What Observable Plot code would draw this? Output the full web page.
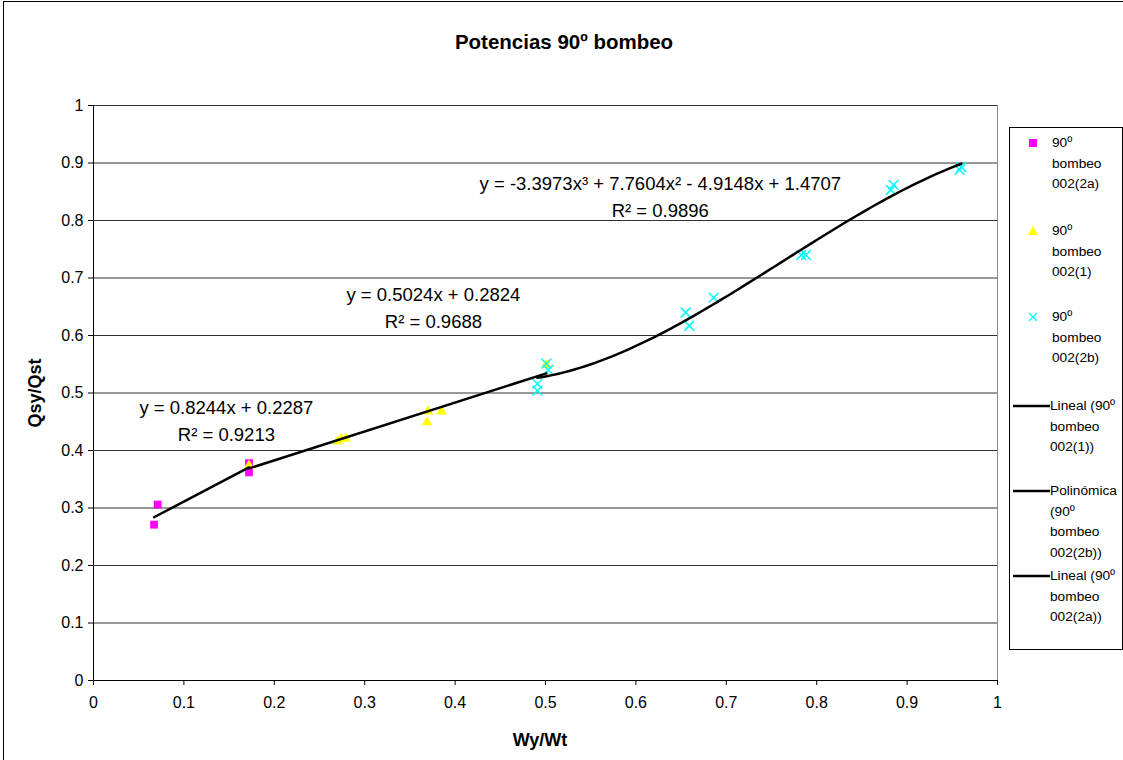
<!DOCTYPE html>
<html>
<head>
<meta charset="utf-8">
<script src="https://cdn.jsdelivr.net/npm/d3@7"></script>
<script src="https://cdn.jsdelivr.net/npm/@observablehq/plot@0.6"></script>
<style>
  html, body { margin: 0; padding: 0; background: #fff; }
  body { width: 1123px; height: 760px; position: relative; overflow: hidden;
         font-family: "Liberation Sans", Arial, sans-serif; color: #000; }
  #frame { position: absolute; left: 3px; top: 1px; width: 1130px; height: 770px;
           border: 1px solid #000; box-sizing: border-box; }
  #chart { position: absolute; left: 0; top: 0; }
  .title { position: absolute; font-weight: bold; white-space: nowrap; }
  #legend { position: absolute; left: 1009px; top: 127px; width: 114px; height: 523px;
            border: 1px solid #000; box-sizing: border-box; background: #fff; }
  .lg-text { position: absolute; font-size: 13.7px; line-height: 20.5px; white-space: nowrap; }
  .lg-key { position: absolute; }
</style>
</head>
<body>
<div id="frame"></div>
<div id="chart"></div>
<div class="title" id="main-title" style="font-size:20.5px">Potencias 90º bombeo</div>
<div class="title" id="x-title" style="font-size:18px">Wy/Wt</div>
<div class="title" id="y-title" style="font-size:18px">Qsy/Qst</div>
<div id="legend"></div>
<script>
// Axis ticks
const xTicks = [0, 0.1, 0.2, 0.3, 0.4, 0.5, 0.6, 0.7, 0.8, 0.9, 1];
const xTickLabels = ["0", "0.1", "0.2", "0.3", "0.4", "0.5", "0.6", "0.7", "0.8", "0.9", "1"];
const yTicks = [0, 0.1, 0.2, 0.3, 0.4, 0.5, 0.6, 0.7, 0.8, 0.9, 1];
const yTickLabels = ["0", "0.1", "0.2", "0.3", "0.4", "0.5", "0.6", "0.7", "0.8", "0.9", "1"];

// Series "90º bombeo 002(2a)"
const s2aX = [0.067, 0.071, 0.172, 0.172];
const s2aY = [0.271, 0.306, 0.378, 0.362];

// Series "90º bombeo 002(1)"
const s1X = [0.172, 0.270, 0.274, 0.279, 0.369, 0.370, 0.385, 0.501];
const s1Y = [0.374, 0.416, 0.420, 0.421, 0.449, 0.468, 0.468, 0.549];

// Series "90º bombeo 002(2b)"
const s2bX = [0.491, 0.491, 0.501, 0.503, 0.655, 0.659, 0.686, 0.783, 0.788, 0.882, 0.885, 0.958, 0.960];
const s2bY = [0.516, 0.504, 0.551, 0.540, 0.640, 0.617, 0.666, 0.740, 0.740, 0.853, 0.862, 0.888, 0.893];

// Trendline coefficients (highest power first) as printed on the chart
const fit2a = [0.8244, 0.2287];
const fit1 = [0.5024, 0.2824];
const fit2b = [-3.3973, 7.7604, -4.9148, 1.4707];

// Trendline equation labels
const eqLabels = [
  { text: "y = 0.8244x + 0.2287", x: 0.147, y: 0.473 },
  { text: "R² = 0.9213", x: 0.147, y: 0.426 },
  { text: "y = 0.5024x + 0.2824", x: 0.376, y: 0.671 },
  { text: "R² = 0.9688", x: 0.376, y: 0.624 },
  { text: "y = -3.3973x³ + 7.7604x² - 4.9148x + 1.4707", x: 0.627, y: 0.863 },
  { text: "R² = 0.9896", x: 0.627, y: 0.816 }
];

const zip = (xs, ys) => xs.map((x, i) => ({ x, y: ys[i] }));
const poly = (c, x) => c.reduce((acc, k) => acc * x + k, 0);
const fitLine = (c, xs, n) => {
  const lo = d3.min(xs), hi = d3.max(xs);
  return d3.range(n + 1).map(i => {
    const x = lo + (hi - lo) * i / n;
    return { x, y: poly(c, x) };
  });
};

const pts2a = zip(s2aX, s2aY);
const pts1 = zip(s1X, s1Y);
const pts2b = zip(s2bX, s2bY);

const chart = Plot.plot({
  width: 1123,
  height: 760,
  marginLeft: 93,
  marginRight: 126,
  marginTop: 105,
  marginBottom: 80,
  x: { domain: [0, 1] },
  y: { domain: [0, 1] },
  style: { fontFamily: "'Liberation Sans', Arial, sans-serif", fontSize: "16px", color: "#000", background: "transparent" },
  marks: [
    Plot.ruleY(yTicks.filter(v => v > 0), { stroke: "#333", strokeWidth: 1 }),
    Plot.ruleX([1], { stroke: "#888", strokeWidth: 1 }),
    Plot.axisX({ ticks: xTicks, tickSize: 5, tickPadding: 11, label: null, fontSize: 16,
                 tickFormat: d => xTickLabels[xTicks.indexOf(d)] }),
    Plot.axisY({ ticks: yTicks, tickSize: 5, tickPadding: 5, label: null, fontSize: 16,
                 tickFormat: d => yTickLabels[yTicks.indexOf(d)] }),
    Plot.ruleY([0], { stroke: "#000", strokeWidth: 1 }),
    Plot.ruleX([0], { stroke: "#000", strokeWidth: 1 }),
    Plot.dot(pts2a, { x: "x", y: "y", symbol: "square", fill: "#FF00FF", r: 4.4 }),
    Plot.dot(pts1, { x: "x", y: "y", symbol: "triangle", fill: "#FFFF00", r: 3.9 }),
    Plot.dot(pts2b, { x: "x", y: "y", symbol: "times", stroke: "#00FFFF", strokeWidth: 1.5, r: 4.5 }),
    Plot.line(fitLine(fit2a, s2aX, 1), { x: "x", y: "y", stroke: "#000", strokeWidth: 2.5 }),
    Plot.line(fitLine(fit1, s1X, 1), { x: "x", y: "y", stroke: "#000", strokeWidth: 2.5 }),
    Plot.line(fitLine(fit2b, s2bX, 80), { x: "x", y: "y", stroke: "#000", strokeWidth: 2.5 }),
    Plot.text(eqLabels, { x: "x", y: "y", text: "text", fontSize: 18.5, fill: "#000", textAnchor: "middle" })
  ]
});
document.getElementById("chart").appendChild(chart);

// Titles
const t = document.getElementById("main-title");
t.style.left = "564px"; t.style.top = "30px"; t.style.transform = "translateX(-50%)";
const xt = document.getElementById("x-title");
xt.style.left = "540px"; xt.style.top = "730px"; xt.style.transform = "translateX(-50%)";
const yt = document.getElementById("y-title");
yt.style.left = "35px"; yt.style.top = "393px";
yt.style.transform = "translate(-50%, -50%) rotate(-90deg)";

// Legend
const legendItems = [
  { kind: "square", color: "#FF00FF", lines: ["90º", "bombeo", "002(2a)"], top: 15 },
  { kind: "triangle", color: "#FFFF00", lines: ["90º", "bombeo", "002(1)"], top: 103 },
  { kind: "times", color: "#00FFFF", lines: ["90º", "bombeo", "002(2b)"], top: 189 },
  { kind: "line", color: "#000", lines: ["Lineal (90º", "bombeo", "002(1))"], top: 278 },
  { kind: "line", color: "#000", lines: ["Polinómica", "(90º", "bombeo", "002(2b))"], top: 363 },
  { kind: "line", color: "#000", lines: ["Lineal (90º", "bombeo", "002(2a))"], top: 448 }
];
const legend = document.getElementById("legend");
const NS = "http://www.w3.org/2000/svg";
for (const item of legendItems) {
  const svg = document.createElementNS(NS, "svg");
  svg.setAttribute("width", 40); svg.setAttribute("height", 12);
  svg.setAttribute("class", "lg-key");
  svg.style.left = "2px"; svg.style.top = (item.top - 6) + "px";
  let shape;
  if (item.kind === "square") {
    shape = document.createElementNS(NS, "rect");
    shape.setAttribute("x", 17); shape.setAttribute("y", 2);
    shape.setAttribute("width", 8); shape.setAttribute("height", 8);
    shape.setAttribute("fill", item.color);
  } else if (item.kind === "triangle") {
    shape = document.createElementNS(NS, "path");
    shape.setAttribute("d", "M21,1 L26,10 L16,10 Z");
    shape.setAttribute("fill", item.color);
  } else if (item.kind === "times") {
    shape = document.createElementNS(NS, "path");
    shape.setAttribute("d", "M17,2 L25,10 M25,2 L17,10");
    shape.setAttribute("stroke", item.color); shape.setAttribute("stroke-width", 1.3);
  } else {
    shape = document.createElementNS(NS, "line");
    shape.setAttribute("x1", 1); shape.setAttribute("x2", 38);
    shape.setAttribute("y1", 6); shape.setAttribute("y2", 6);
    shape.setAttribute("stroke", item.color); shape.setAttribute("stroke-width", 2.5);
  }
  svg.appendChild(shape);
  legend.appendChild(svg);
  const txt = document.createElement("div");
  txt.className = "lg-text";
  txt.style.left = (item.kind === "line" ? 40 : 42) + "px";
  txt.style.top = (item.top - 10) + "px";
  txt.innerHTML = item.lines.join("<br>");
  legend.appendChild(txt);
}
</script>
</body>
</html>
